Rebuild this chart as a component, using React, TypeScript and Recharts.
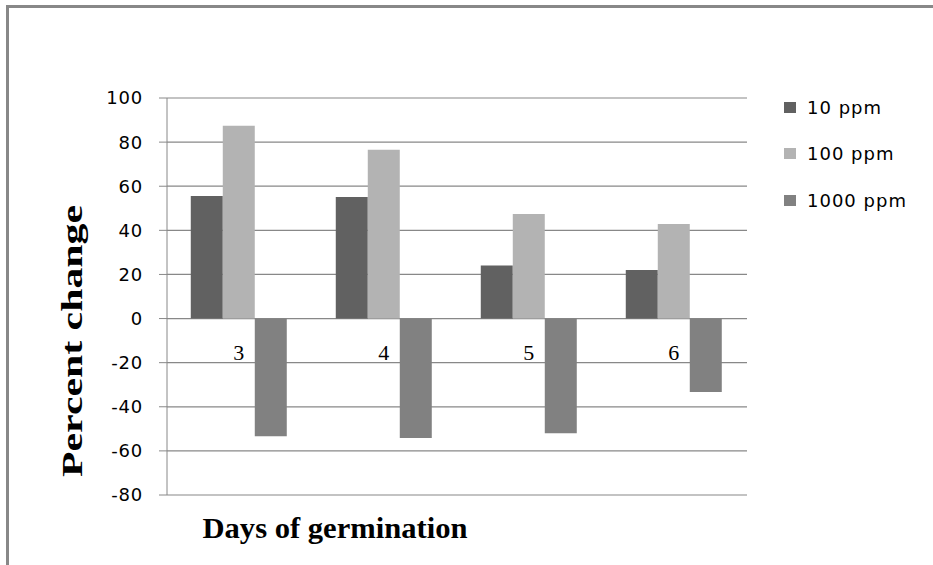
import React from "react";
import {
  BarChart,
  Bar,
  XAxis,
  YAxis,
  CartesianGrid,
  Legend,
  LabelList,
  Label,
} from "recharts";

const days = ["3", "4", "5", "6"];
const ppm10 = [55.6, 55.1, 24.1, 22.0];
const ppm100 = [87.4, 76.5, 47.4, 42.9];
const ppm1000 = [-53.4, -54.1, -52.0, -33.3];
const yTicks = [-80, -60, -40, -20, 0, 20, 40, 60, 80, 100];

const seriesNames = ["10 ppm", "100 ppm", "1000 ppm"];
const seriesColors = ["#616161", "#b3b3b3", "#818181"];

const data = days.map((day, i) => ({
  day,
  a: ppm10[i],
  b: ppm100[i],
  c: ppm1000[i],
}));

const sansFont = "'DejaVu Sans', sans-serif";
const serifFont = "'Liberation Serif', 'Times New Roman', serif";

// category label drawn just under the zero line, centred on the middle bar
const DayLabel = (props: any) => {
  const { x, y, width, height, value } = props;
  return (
    <text
      x={x + width / 2}
      y={y + height + 34}
      textAnchor="middle"
      dominantBaseline="central"
      fontFamily={serifFont}
      fontSize={22}
      fill="#000"
    >
      {value}
    </text>
  );
};

const LegendBox = () => (
  <div style={{ fontFamily: sansFont, fontSize: 18, letterSpacing: 1 }}>
    {seriesNames.map((name, i) => (
      <div
        key={name}
        style={{ display: "flex", alignItems: "center", height: 46.5 }}
      >
        <span
          style={{
            width: 12,
            height: 11,
            background: seriesColors[i],
            marginRight: 11,
          }}
        />
        <span style={{ color: "#000" }}>{name}</span>
      </div>
    ))}
  </div>
);

export default function App() {
  return (
    <div style={{ position: "absolute", left: 0, top: 0, width: 933, height: 565, background: "#fff" }}>
      <div
        style={{
          position: "absolute",
          left: 6,
          top: 5,
          width: 927,
          height: 558,
          borderTop: "3px solid #888",
          borderLeft: "3px solid #888",
        }}
      />
      <BarChart
        width={933}
        height={565}
        data={data}
        margin={{ top: 98, right: 46, bottom: 69, left: 107 }}
        barCategoryGap="16.4%"
        barGap={0}
      >
        <CartesianGrid vertical={false} stroke="#888" strokeWidth={1.2} />
        <XAxis
          dataKey="day"
          tick={false}
          tickLine={false}
          axisLine={false}
          height={1}
        >
          <Label
            content={() => (
              <text
                x={335}
                y={528}
                textAnchor="middle"
                dominantBaseline="central"
                fontFamily={serifFont}
                fontWeight="bold"
                fontSize={29}
                textLength={265}
                lengthAdjust="spacingAndGlyphs"
                fill="#000"
              >
                Days of germination
              </text>
            )}
          />
        </XAxis>
        <YAxis
          width={60}
          domain={[-80, 100]}
          ticks={yTicks}
          interval={0}
          tickSize={8}
          tickMargin={16}
          stroke="#888"
          tick={{ fill: "#000", fontFamily: sansFont, fontSize: 18, letterSpacing: 0.8 }}
        >
          <Label
            content={() => (
              <text
                x={72}
                y={341}
                transform="rotate(-90 72 341)"
                textAnchor="middle"
                dominantBaseline="central"
                fontFamily={serifFont}
                fontWeight="bold"
                fontSize={29}
                textLength={272}
                lengthAdjust="spacingAndGlyphs"
                fill="#000"
              >
                Percent change
              </text>
            )}
          />
        </YAxis>
        <Legend
          layout="vertical"
          verticalAlign="top"
          align="right"
          content={<LegendBox />}
          wrapperStyle={{ left: 784, top: 84, width: 140 }}
        />
        <Bar dataKey="a" name={seriesNames[0]} fill={seriesColors[0]} isAnimationActive={false} />
        <Bar dataKey="b" name={seriesNames[1]} fill={seriesColors[1]} isAnimationActive={false}>
          <LabelList dataKey="day" content={<DayLabel />} />
        </Bar>
        <Bar dataKey="c" name={seriesNames[2]} fill={seriesColors[2]} isAnimationActive={false} />
      </BarChart>
    </div>
  );
}
